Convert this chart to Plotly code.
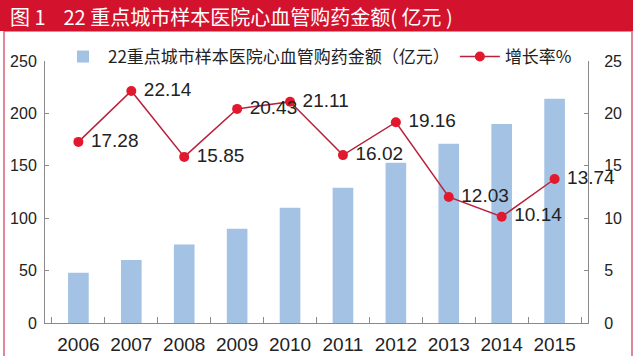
import plotly.graph_objects as go

years = ["2006", "2007", "2008", "2009", "2010", "2011", "2012", "2013", "2014", "2015"]
amount = [48, 60, 75, 90, 110, 129, 153, 171, 190, 214]
growth = [17.28, 22.14, 15.85, 20.43, 21.11, 16.02, 19.16, 12.03, 10.14, 13.74]
growth_labels = ["17.28", "22.14", "15.85", "20.43", "21.11", "16.02", "19.16", "12.03", "10.14", "13.74"]

bar_name = "22重点城市样本医院心血管购药金额（亿元）"
line_name = "增长率%"
title_text = "图 1&nbsp;&nbsp;&nbsp;&nbsp;22 重点城市样本医院心血管购药金额( 亿元 )"

W, H = 640, 356
L, R, T, B = 45, 588, 61, 323
pw, ph = R - L, B - T

def px(x):
    return (x - L) / pw

def py(y):
    return (B - y) / ph

FONT = "Liberation Sans, Arial, Noto Sans CJK SC, sans-serif"
CJK = "Noto Sans CJK SC, Liberation Sans, sans-serif"

fig = go.Figure()
fig.add_trace(go.Bar(
    x=years, y=amount, name=bar_name,
    marker=dict(color="#a4c2e3", line=dict(width=0)),
    width=0.39, yaxis="y",
))
fig.add_trace(go.Scatter(
    x=years, y=growth, name=line_name, yaxis="y2",
    mode="lines+markers+text",
    line=dict(color="#b8233b", width=1.5),
    marker=dict(color="#e2192e", size=10),
    text=growth_labels, texttemplate=" %{text}", textposition="middle right",
    textfont=dict(size=19, color="#222222", family=FONT),
    cliponaxis=False,
))

axis_color = "#8a8a8a"
fig.update_layout(
    width=W, height=H,
    margin=dict(l=L, r=W - R, t=T, b=H - B, pad=0, autoexpand=False),
    paper_bgcolor="white", plot_bgcolor="white",
    font=dict(family=FONT, color="#222222"),
    showlegend=True,
    legend=dict(
        orientation="h", x=px(58), y=py(57), xanchor="left", yanchor="middle",
        font=dict(size=17, family=CJK, color="#222222"),
        bgcolor="rgba(0,0,0,0)", itemwidth=40, tracegroupgap=0,
    ),
    xaxis=dict(
        type="category", showline=True, linecolor=axis_color, linewidth=1,
        ticks="inside", tickson="boundaries", ticklen=6, tickcolor=axis_color,
        tickfont=dict(size=19), showgrid=False, ticklabelstandoff=4,
    ),
    yaxis=dict(
        range=[0, 250], tickvals=[0, 50, 100, 150, 200, 250],
        showline=True, linecolor=axis_color, linewidth=1,
        ticks="inside", ticklen=4, tickcolor=axis_color,
        tickfont=dict(size=16), showgrid=False, zeroline=False,
        ticklabelstandoff=4,
    ),
    yaxis2=dict(
        range=[0, 25], tickvals=[0, 5, 10, 15, 20, 25],
        overlaying="y", side="right",
        showline=True, linecolor=axis_color, linewidth=1,
        ticks="inside", ticklen=4, tickcolor=axis_color,
        tickfont=dict(size=16), showgrid=False, zeroline=False,
        ticklabelstandoff=12,
    ),
    bargap=0.6,
)

# red frame around chart body
fig.add_shape(type="rect", xref="paper", yref="paper",
              x0=px(4), x1=px(632), y0=py(360), y1=py(31),
              line=dict(color="#d9607a", width=1.5), fillcolor="rgba(0,0,0,0)", layer="below")
# title band
fig.add_shape(type="rect", xref="paper", yref="paper",
              x0=px(0), x1=px(633), y0=py(31), y1=py(0),
              line=dict(width=0), fillcolor="#d3122d", layer="above")
fig.add_annotation(xref="paper", yref="paper", x=px(8), y=py(17),
                   xanchor="left", yanchor="middle", showarrow=False,
                   text=title_text, font=dict(size=20, color="white", family=CJK))

fig.write_html(
    "out.html",
    config={"displayModeBar": False},
    post_script="document.body.style.margin='0';document.body.style.padding='0';",
)
